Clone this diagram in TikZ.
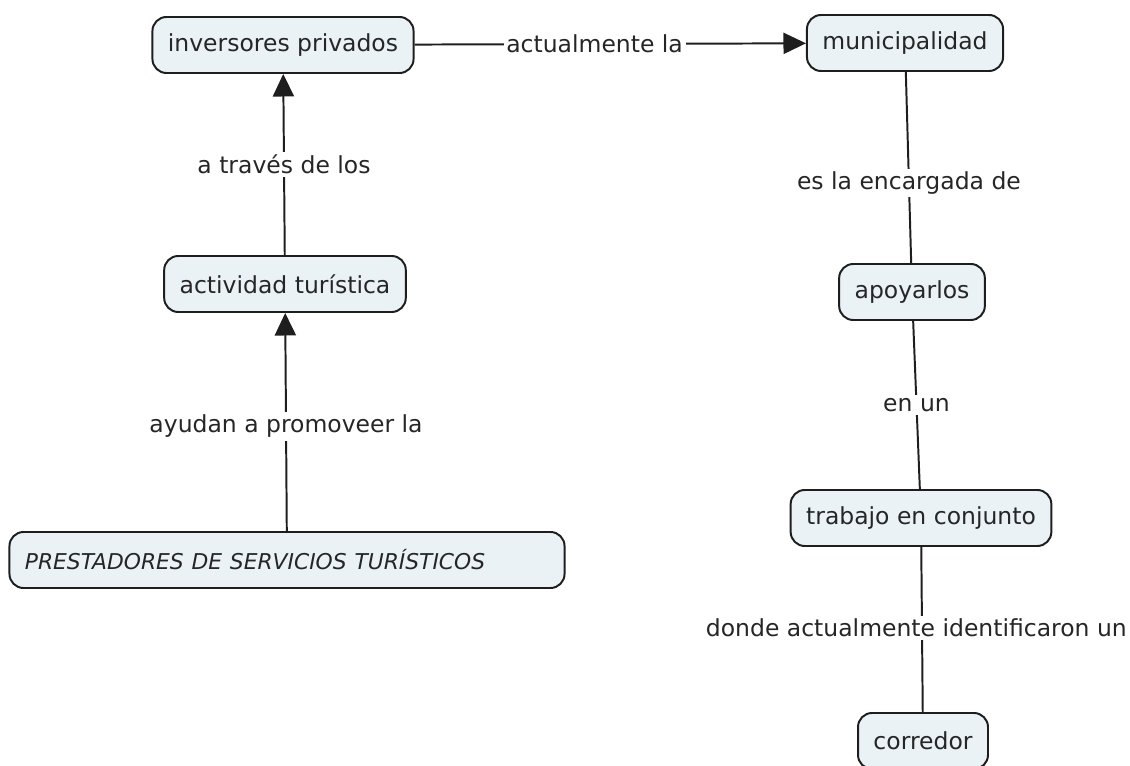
\documentclass[tikz,border=0pt]{standalone}
\usepackage{fontspec}
\setmainfont{DejaVu Sans}
\usetikzlibrary{arrows.meta,positioning}
\definecolor{conceptfill}{RGB}{234,242,246}
\definecolor{conceptdraw}{RGB}{30,30,30}

\begin{document}
\begin{tikzpicture}[x=0.025cm,y=-0.025cm,>={Triangle[length=16pt,width=15pt]},
	                    line width=1.4pt,draw=conceptdraw,
	                    font=\fontsize{16.7}{19}\selectfont]
	  \tikzstyle{concept}=[rounded corners=10pt,fill=conceptfill,draw=conceptdraw,
	                       text=black!85,line width=1.4pt,minimum height=1.4cm,inner xsep=11pt]
	  \tikzstyle{linkname}=[fill=white,text=black!85,inner sep=2pt]
	  \useasboundingbox (0,0) rectangle (1130,766);

	  \node[concept] 	(inversores) 	at (283,45) 	{inversores privados};
	  \node[concept] 	(municipio) 	at (905,43) 	{municipalidad};
	  \node[concept] 	(actividad) 	at (285,284) 	{actividad turística};
	  \node[concept, text width=13.1cm, align=left]
	  				(prestadores) 	at (287,560) 	{\fontsize{15.5}{19}\selectfont\itshape PRESTADORES DE SERVICIOS TURÍSTICOS};
	  \node[concept] 	(apoyarlos) 	at (912,292) 	{apoyarlos};
	  \node[concept] 	(trabajo) 		at (921,518) 	{trabajo en conjunto};
	  \node[concept] 	(corredor) 		at (923,741) 	{corredor};

	  \path (inversores)	edge [->] 	node [linkname, pos=0.46] 	{actualmente la} (municipio)
	  		(actividad) 	edge [->] 	node [linkname] 			{a través de los} (inversores)
	  		(prestadores) 	edge [->] 	node [linkname, pos=0.48] 	{ayudan a promoveer la} (actividad)
	  		(municipio) 	edge 		node [linkname, pos=0.58] 	{es la encargada de} (apoyarlos)
	  		(apoyarlos) 	edge 		node [linkname] 			{en un} (trabajo)
	  		(trabajo) 		edge 		node [linkname, pos=0.49, xshift=-4pt, inner xsep=1pt]
	  										{donde actualmente identificaron un} (corredor);
	\end{tikzpicture}
\end{document}
